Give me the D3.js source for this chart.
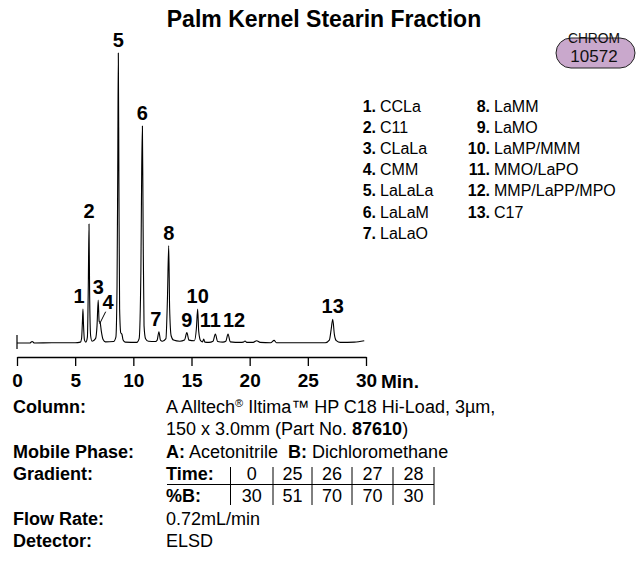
<!DOCTYPE html>
<html>
<head>
<meta charset="utf-8">
<script src="https://cdn.jsdelivr.net/npm/d3@7"></script>
<style>
  html, body { margin: 0; padding: 0; background: #fff; }
  svg { display: block; font-family: "Liberation Sans", Arial, sans-serif; }
</style>
</head>
<body>
<svg id="chart" width="637" height="571"></svg>
<script>
// Peak identification
const peakNumbers = [1, 2, 3, 4, 5, 6, 7, 8, 9, 10, 11, 12, 13];
const peakNames = ["CCLa", "C11", "CLaLa", "CMM", "LaLaLa", "LaLaM", "LaLaO",
                   "LaMM", "LaMO", "LaMP/MMM", "MMO/LaPO", "MMP/LaPP/MPO", "C17"];
// Retention time (min) and detector response (relative, tallest = 100) of each numbered peak
const peakTimes   = [5.67, 6.19, 6.98, 7.15, 8.71, 10.78, 12.2, 13.04, 14.6, 15.53, 17.05, 18.14, 27.14];
const peakHeights = [11.7, 41, 14.8, 7, 100, 74.8, 3.9, 33.6, 3.6, 11.7, 3.1, 3.1, 8.2];

// ELSD trace: time (min)
const traceTime = [
  0, 1.1, 1.3, 1.5, 3, 5.0, 5.45,
  5.55, 5.62, 5.67, 5.72, 5.8, 5.92,
  6.05, 6.13, 6.19, 6.24, 6.33, 6.45,
  6.75, 6.88, 6.98, 7.06, 7.15, 7.25, 7.4, 7.6,
  8.3, 8.5, 8.6, 8.66, 8.71, 8.76, 8.82, 8.92, 9.02, 9.12, 9.3,
  10.3, 10.5, 10.65, 10.72, 10.78, 10.84, 10.92, 11.05, 11.3,
  11.9, 12.05, 12.2, 12.33, 12.5,
  12.8, 12.93, 13.04, 13.12, 13.25, 13.45, 14.0,
  14.4, 14.6, 14.78,
  15.25, 15.42, 15.53, 15.62, 15.78,
  15.95, 16.05, 16.15, 16.5,
  16.85, 17.05, 17.25, 17.7,
  17.95, 18.14, 18.33, 19.2,
  19.45, 19.6, 19.75, 20.3, 20.6, 20.9, 21.8, 22.1, 22.3,
  26.5, 26.85, 27.0, 27.14, 27.28, 27.45, 27.8,
  29.0, 29.85
];
// ELSD trace: detector response (relative)
const traceSignal = [
  0, 0, 0.5, 0, 0.1, 0.1, 0.3,
  1.5, 7, 11.7, 6, 1.0, 0.3,
  2, 20, 41, 18, 2.5, 0.6,
  1.5, 6, 14.8, 7.5, 7, 4, 1.2, 0.4,
  0.5, 2, 20, 60, 100, 55, 12, 3.5, 3, 1, 0.3,
  0.2, 1.5, 25, 60, 74.8, 40, 6, 1.5, 0.6,
  0.5, 1, 3.9, 1, 0.6,
  1.5, 15, 33.6, 12, 2.5, 1, 0.6,
  1, 3.6, 1,
  0.8, 5, 11.7, 4, 0.8,
  0.4, 1.4, 0.3, 0.2,
  0.6, 3.1, 0.5, 0.3,
  0.6, 3.1, 0.4, 0.2,
  0.3, 0.7, 0.2, 0.2, 0.8, 0.2, 0.1, 0.9, 0.1,
  0.1, 1, 4.5, 8.2, 3, 0.8, 0.2,
  0.3, 0.8
];

// Time axis
const timeTicks = [0, 5, 10, 15, 20, 25, 30];
const timeUnit = "Min.";

// Method conditions
const gradientTimes = ["0", "25", "26", "27", "28"];
const gradientPercentB = ["30", "51", "70", "70", "30"];

const title = "Palm Kernel Stearin Fraction";
const chromId = "10572";

// ---------------------------------------------------------------
const svg = d3.select("#chart");
const x = d3.scaleLinear().domain([0, 30]).range([17, 366]);
const y = d3.scaleLinear().domain([0, 100]).range([343, 53]);

// Title
svg.append("text")
  .attr("x", 324).attr("y", 27)
  .attr("text-anchor", "middle")
  .attr("font-weight", "bold").attr("font-size", 23)
  .text(title);

// CHROM badge
const badge = svg.append("g");
badge.append("rect")
  .attr("x", 556).attr("y", 38).attr("width", 79).attr("height", 30)
  .attr("rx", 15).attr("ry", 15)
  .attr("fill", "#c9a8cc").attr("stroke", "#222").attr("stroke-width", 1);
badge.append("text")
  .attr("x", 594).attr("y", 43).attr("text-anchor", "middle")
  .attr("font-size", 15).attr("fill", "#111")
  .attr("transform", "translate(594,0) scale(0.92,1) translate(-594,0)")
  .text("CHROM");
badge.append("text")
  .attr("x", 594).attr("y", 62).attr("text-anchor", "middle")
  .attr("font-size", 17).attr("fill", "#111")
  .text(chromId);

// Peak legend
const legend = svg.append("g").attr("font-size", 16);
peakNumbers.forEach((n, i) => {
  const col = i < 7 ? 0 : 1;
  const row = i < 7 ? i : i - 7;
  const nx = col === 0 ? 376 : 490;
  const ly = 111.5 + row * 21.2;
  legend.append("text")
    .attr("x", nx).attr("y", ly).attr("text-anchor", "end")
    .attr("font-weight", "bold").text(n + ".");
  legend.append("text")
    .attr("x", nx + 4).attr("y", ly).text(peakNames[i]);
});

// Start-of-run marker
svg.append("line")
  .attr("x1", x(0)).attr("x2", x(0))
  .attr("y1", y(0) - 8).attr("y2", y(0) + 6)
  .attr("stroke", "#000").attr("stroke-width", 1.2);

// Chromatogram trace
const traceData = traceTime.map((t, i) => [t, traceSignal[i]]);
svg.append("path")
  .datum(traceData)
  .attr("fill", "none").attr("stroke", "#000").attr("stroke-width", 1.1)
  .attr("stroke-linejoin", "round")
  .attr("d", d3.line().x(d => x(d[0])).y(d => y(d[1])).curve(d3.curveMonotoneX));

// Peak number labels
const labelNudge = { 1: [-4, 0], 4: [8, 0], 7: [-3, 0], 11: [-5, 0], 12: [6, 0] };
const labels = svg.append("g")
  .attr("font-weight", "bold").attr("font-size", 20).attr("text-anchor", "middle");
peakNumbers.forEach((n, i) => {
  const [dx, dy] = labelNudge[n] || [0, 0];
  let ly = Math.min(y(peakHeights[i]) - 6, y(0) - 16);
  if (n === 4) ly = y(peakHeights[i]) - 14;
  labels.append("text")
    .attr("x", x(peakTimes[i]) + dx).attr("y", ly + dy)
    .text(n);
});
// Leader from label 4 to its shoulder
svg.append("line")
  .attr("x1", x(peakTimes[3]) - 0.5).attr("y1", y(peakHeights[3]) + 1)
  .attr("x2", x(peakTimes[3]) + 5.5).attr("y2", y(peakHeights[3]) - 11)
  .attr("stroke", "#000").attr("stroke-width", 1);

// Time axis
const axis = svg.append("g")
  .attr("transform", `translate(0,357)`)
  .call(d3.axisBottom(x).tickValues(timeTicks).tickSize(9).tickSizeOuter(0).tickPadding(8)
        .tickFormat(d3.format("d")));
axis.select(".domain").attr("stroke", "#000").attr("stroke-width", 1.3);
axis.selectAll(".tick line").attr("stroke", "#000").attr("stroke-width", 1.3);
axis.selectAll(".tick text")
  .attr("font-family", "Liberation Sans, Arial, sans-serif")
  .attr("font-size", 19).attr("font-weight", "bold").attr("fill", "#000");
svg.append("text")
  .attr("x", x(30) + 15).attr("y", 388)
  .attr("font-size", 19).attr("font-weight", "bold")
  .text(timeUnit);

// Method conditions block
const info = svg.append("g").attr("font-size", 18);
const labelX = 13, valueX = 166;
const rowY = [413, 435, 457.5, 480, 502, 524.5, 547];
function boldLabel(txt, yy) {
  info.append("text").attr("x", labelX).attr("y", yy).attr("font-weight", "bold").text(txt);
}
boldLabel("Column:", rowY[0]);
const col1 = info.append("text").attr("x", valueX).attr("y", rowY[0]);
col1.append("tspan").text("A Alltech");
col1.append("tspan").attr("font-size", 11).attr("dy", -6).text("®");
col1.append("tspan").attr("dy", 6).text(" Iltima™ HP C18 Hi-Load, 3µm,");
const col2 = info.append("text").attr("x", valueX).attr("y", rowY[1]);
col2.append("tspan").text("150 x 3.0mm (Part No. ");
col2.append("tspan").attr("font-weight", "bold").text("87610");
col2.append("tspan").text(")");

boldLabel("Mobile Phase:", rowY[2]);
const mp = info.append("text").attr("x", valueX).attr("y", rowY[2]);
mp.append("tspan").attr("font-weight", "bold").text("A:");
mp.append("tspan").text(" Acetonitrile");
mp.append("tspan").attr("font-weight", "bold").attr("dx", 10).text("B:");
mp.append("tspan").text(" Dichloromethane");

boldLabel("Gradient:", rowY[3]);
info.append("text").attr("x", valueX).attr("y", rowY[3]).attr("font-weight", "bold").text("Time:");
info.append("text").attr("x", valueX).attr("y", rowY[4]).attr("font-weight", "bold").text("%B:");
const cellEdges = [230.5, 273, 312, 352, 393, 434];
gradientTimes.forEach((t, i) => {
  const cx = (cellEdges[i] + cellEdges[i + 1]) / 2;
  info.append("text").attr("x", cx).attr("y", rowY[3]).attr("text-anchor", "middle").text(t);
  info.append("text").attr("x", cx).attr("y", rowY[4]).attr("text-anchor", "middle").text(gradientPercentB[i]);
});
cellEdges.forEach(ex => {
  info.append("line").attr("x1", ex).attr("x2", ex)
    .attr("y1", rowY[3] - 13).attr("y2", rowY[4] + 3)
    .attr("stroke", "#000").attr("stroke-width", 1);
});
info.append("line").attr("x1", valueX + 1).attr("x2", cellEdges[cellEdges.length - 1])
  .attr("y1", rowY[3] + 4.5).attr("y2", rowY[3] + 4.5)
  .attr("stroke", "#000").attr("stroke-width", 1.2);

boldLabel("Flow Rate:", rowY[5]);
info.append("text").attr("x", valueX).attr("y", rowY[5]).text("0.72mL/min");
boldLabel("Detector:", rowY[6]);
info.append("text").attr("x", valueX).attr("y", rowY[6]).text("ELSD");
</script>
</body>
</html>
